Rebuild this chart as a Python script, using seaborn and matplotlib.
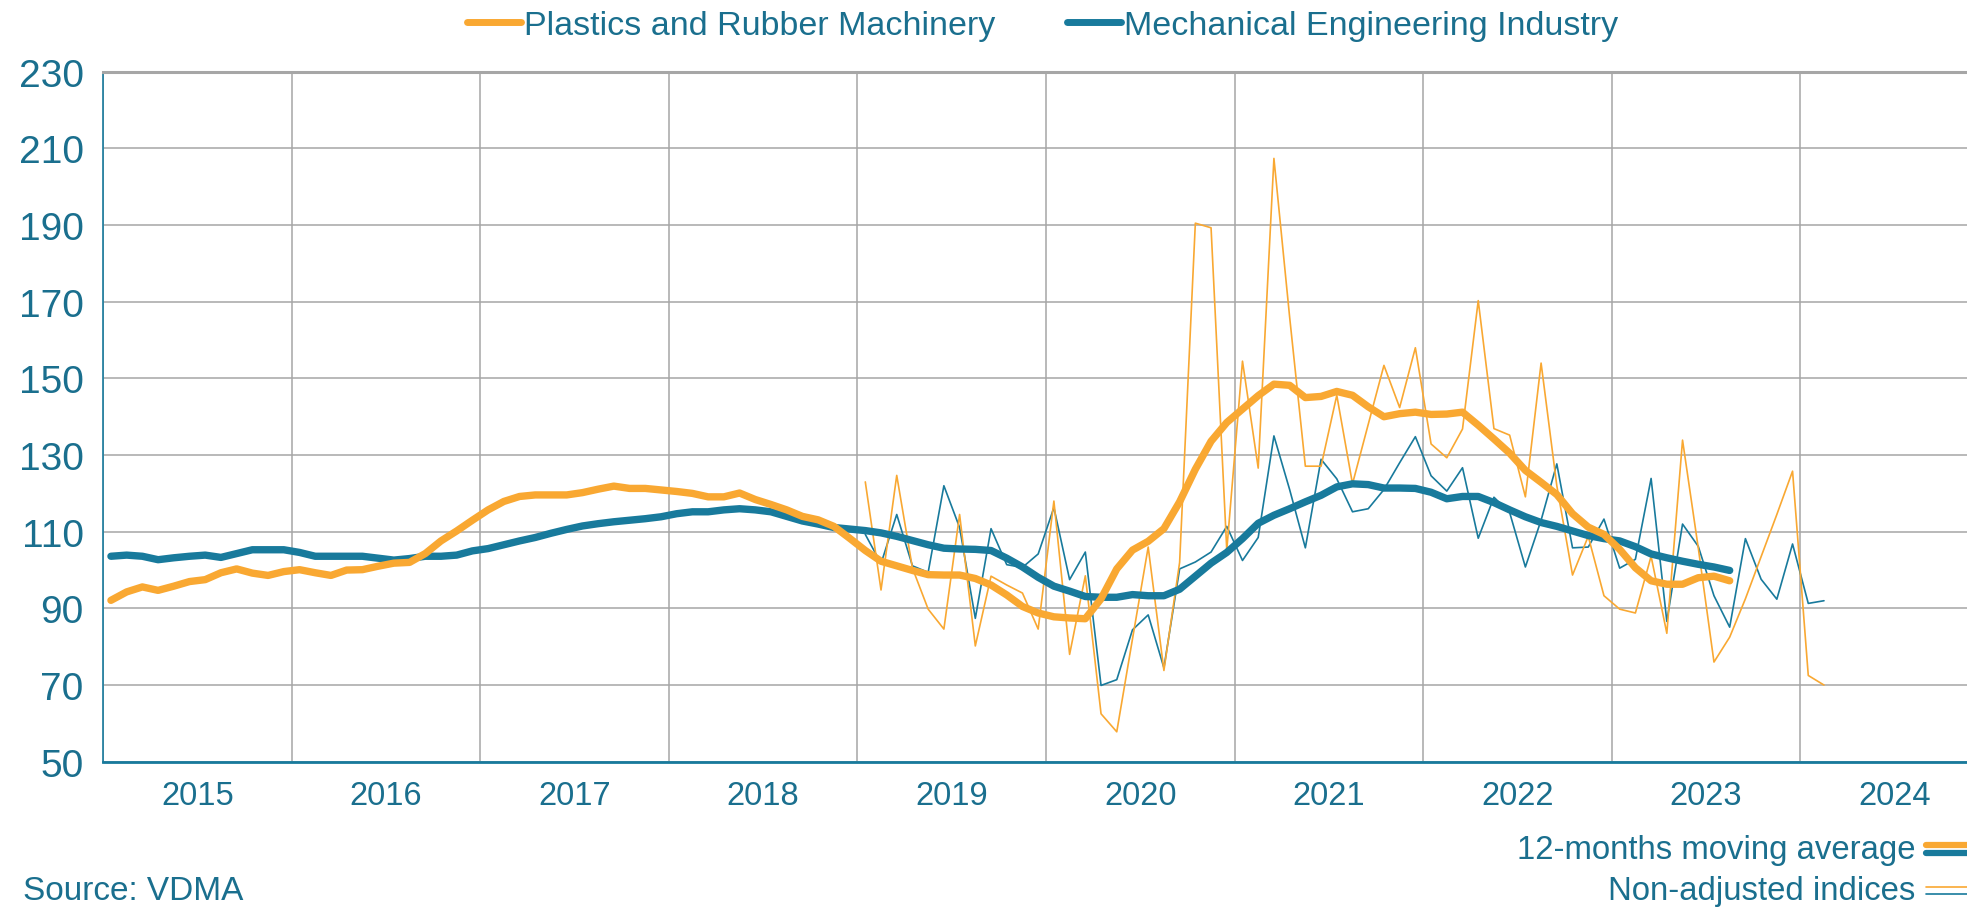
import numpy as np
import pandas as pd
import matplotlib
matplotlib.use("Agg")
import matplotlib.pyplot as plt
import seaborn as sns
from matplotlib.lines import Line2D

# ---------------- data ----------------
first_year = 2015
years = [2015, 2016, 2017, 2018, 2019, 2020, 2021, 2022, 2023, 2024]
series_names = ["Plastics and Rubber Machinery", "Mechanical Engineering Industry"]
y_ticks = [50, 70, 90, 110, 130, 150, 170, 190, 210, 230]

# 12-months moving averages, monthly from Jan 2015
plastics_ma = [92.1, 94.3, 95.6, 94.7, 95.8, 97.0, 97.5, 99.3, 100.3, 99.2, 98.6, 99.6,
               100.1, 99.3, 98.6, 100.0, 100.1, 101.0, 101.8, 102.0, 104.3, 107.6, 110.2, 113.0,
               115.7, 117.9, 119.2, 119.6, 119.6, 119.6, 120.2, 121.1, 121.9, 121.3, 121.3, 120.9,
               120.5, 120.0, 119.1, 119.1, 120.1, 118.4, 117.1, 115.7, 114.0, 113.1, 111.4, 108.3,
               105.1, 102.3, 101.1, 99.9, 98.8, 98.7, 98.7, 97.8, 96.1, 93.5, 90.5, 88.8,
               87.8, 87.5, 87.3, 92.5, 100.3, 105.2, 107.5, 110.8, 117.8, 126.3, 133.6, 138.5,
               142.0, 145.5, 148.5, 148.2, 145.0, 145.3, 146.6, 145.6, 142.6, 140.0, 140.8, 141.2,
               140.6, 140.7, 141.2, 137.8, 134.2, 130.5, 126.0, 122.9, 119.7, 114.7, 111.2, 109.3,
               105.4, 100.6, 97.2, 96.3, 96.3, 98.0, 98.4, 97.2]
mech_ma = [103.6, 103.9, 103.6, 102.7, 103.2, 103.6, 103.9, 103.3, 104.3, 105.3, 105.3, 105.3,
           104.6, 103.6, 103.6, 103.6, 103.6, 103.1, 102.6, 103.0, 103.6, 103.6, 103.9, 105.0,
           105.6, 106.6, 107.6, 108.5, 109.6, 110.6, 111.5, 112.1, 112.6, 113.0, 113.4, 113.9,
           114.7, 115.2, 115.2, 115.7, 116.0, 115.7, 115.2, 114.0, 112.8, 112.0, 111.1, 110.7,
           110.3, 109.7, 108.8, 107.7, 106.6, 105.7, 105.5, 105.4, 105.1, 103.1, 100.8, 98.1,
           95.8, 94.5, 93.1, 92.9, 92.9, 93.6, 93.3, 93.3, 95.0, 98.4, 101.8, 104.6,
           108.2, 112.2, 114.3, 116.0, 117.8, 119.5, 121.7, 122.5, 122.3, 121.4, 121.4, 121.3,
           120.3, 118.6, 119.2, 119.2, 117.6, 115.7, 113.9, 112.4, 111.4, 110.2, 109.0, 108.2,
           107.6, 106.1, 104.2, 103.2, 102.3, 101.5, 100.8, 99.9]

# non-adjusted indices, monthly from Jan 2019
raw_first_year = 2019
plastics_raw = [123.0, 94.8, 124.7, 100.5, 89.8, 84.6, 114.5, 80.2, 98.4, 96.1, 94.0, 84.6,
                118.0, 78.0, 98.5, 62.5, 57.8, 82.0, 106.0, 73.8, 102.0, 190.5, 189.3, 105.2,
                154.5, 126.6, 207.4, 166.0, 127.1, 127.1, 145.6, 122.5, 138.0, 153.4, 142.4, 158.0,
                132.9, 129.3, 136.8, 170.3, 136.9, 135.2, 119.1, 154.0, 122.0, 98.7, 108.8, 93.3,
                89.8, 88.8, 103.6, 83.5, 133.9, 105.8, 76.0, 82.5, 92.5, 103.5, 114.5, 125.8,
                72.5, 70.0]
mech_raw = [109.3, 101.7, 114.5, 101.1, 99.4, 122.0, 111.1, 87.4, 110.8, 101.4, 100.7, 104.2,
            116.3, 97.5, 104.7, 69.9, 71.4, 84.4, 88.3, 74.5, 100.3, 102.1, 104.7, 111.4,
            102.5, 108.5, 135.0, 121.0, 105.8, 128.9, 123.8, 115.2, 116.0, 121.0, 128.0, 134.8,
            124.6, 120.6, 126.7, 108.3, 119.0, 115.0, 100.8, 113.0, 127.7, 105.8, 106.0, 113.3,
            100.5, 102.8, 123.9, 86.6, 112.0, 106.2, 93.3, 85.1, 108.2, 97.6, 92.4, 106.8,
            91.3, 92.0]

ORANGE = "#F9A832"
BLUE = "#187A9C"
TEXT = "#1A6F8E"
GRID = "#A6A6A6"


def frame(vals, start_year, series):
    start = (start_year - first_year) * 12
    return pd.DataFrame({"month": np.arange(start, start + len(vals)) + 0.5,
                         "value": vals, "series": series})


ma = pd.concat([frame(mech_ma, first_year, series_names[1]),
                frame(plastics_ma, first_year, series_names[0])], ignore_index=True)
raw = pd.concat([frame(mech_raw, raw_first_year, series_names[1]),
                 frame(plastics_raw, raw_first_year, series_names[0])], ignore_index=True)
palette = {series_names[0]: ORANGE, series_names[1]: BLUE}

sns.set_theme(style="white")
plt.rcParams['font.family'] = ['Liberation Sans', 'DejaVu Sans']

fig = plt.figure(figsize=(19.67, 9.12), dpi=100)
ax = fig.add_axes([0.0524, 0.1637, 0.9476, 0.7565])

sns.lineplot(data=raw, x="month", y="value", hue="series", palette=palette,
             hue_order=[series_names[1], series_names[0]],
             linewidth=1.2, legend=False, ax=ax, zorder=3)
sns.lineplot(data=ma, x="month", y="value", hue="series", palette=palette,
             hue_order=[series_names[1], series_names[0]],
             linewidth=5.3, legend=False, ax=ax, zorder=4)
for ln in ax.lines:
    ln.set_solid_capstyle("round")
    ln.set_solid_joinstyle("round")

n_years = len(years)
ax.set_xlim(0, 118.6)
ax.set_ylim(y_ticks[0], y_ticks[-1])
ax.set_yticks(y_ticks)
ax.set_xticks([12 * i + 6 for i in range(n_years)])
ax.set_xticklabels([str(y) for y in years])
ax.set_xticks([12 * i for i in range(n_years)], minor=True)
ax.grid(False)
ax.grid(which="minor", axis="x", color=GRID, linewidth=1.1)
ax.grid(which="major", axis="y", color=GRID, linewidth=1.1)
ax.set_axisbelow(True)
ax.tick_params(axis="both", which="both", length=0, labelcolor=TEXT)
ax.tick_params(axis="y", pad=14, labelsize=28)
ax.tick_params(axis="x", pad=13, labelsize=23.5)
ax.set_xlabel("")
ax.set_ylabel("")
ax.spines["right"].set_visible(False)
ax.spines["top"].set_color(GRID)
ax.spines["top"].set_linewidth(2.2)
ax.spines["left"].set_color(BLUE)
ax.spines["left"].set_linewidth(1.2)
ax.spines["bottom"].set_color(BLUE)
ax.spines["bottom"].set_linewidth(2.0)

# top legend
handles = [Line2D([], [], color=ORANGE, lw=5), Line2D([], [], color=BLUE, lw=5)]
leg = fig.legend(handles, series_names, loc="center", ncol=2,
                 bbox_to_anchor=(0.53, 0.971), frameon=False, fontsize=24.5,
                 handlelength=1.6, handletextpad=0.08, columnspacing=2.1)
for t in leg.get_texts():
    t.set_color(TEXT)

# bottom-right legend
fig.text(0.974, 0.0675, "12-months moving average", ha="right", va="center",
         fontsize=23.7, color=TEXT)
fig.text(0.974, 0.022, "Non-adjusted indices", ha="right", va="center",
         fontsize=23.7, color=TEXT)
fig.add_artist(Line2D([0.979, 1.0], [0.072, 0.072], color=ORANGE, lw=4.5,
                      transform=fig.transFigure))
fig.add_artist(Line2D([0.979, 1.0], [0.064, 0.064], color=BLUE, lw=4.5,
                      transform=fig.transFigure))
fig.add_artist(Line2D([0.979, 1.0], [0.026, 0.026], color=ORANGE, lw=1.2,
                      transform=fig.transFigure))
fig.add_artist(Line2D([0.979, 1.0], [0.019, 0.019], color=BLUE, lw=1.2,
                      transform=fig.transFigure))

fig.text(0.0115, 0.022, "Source: VDMA", ha="left", va="center", fontsize=24, color=TEXT)

fig.savefig("out.png", dpi=100)
